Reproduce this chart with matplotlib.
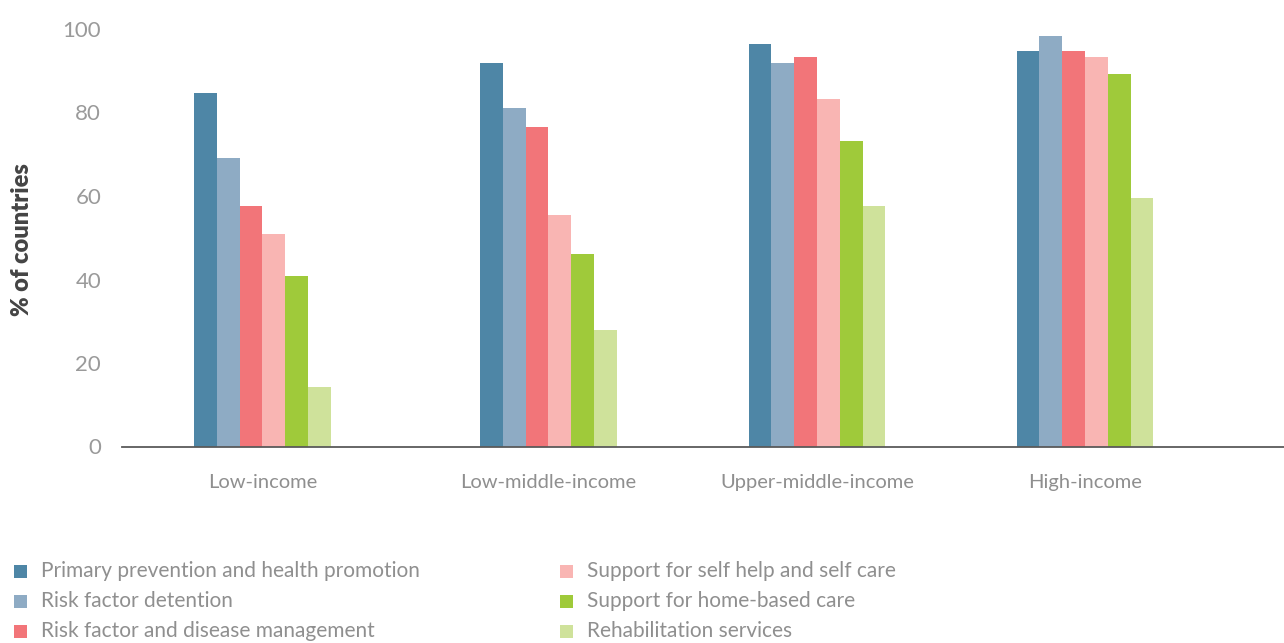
import matplotlib
matplotlib.use("Agg")
import matplotlib.pyplot as plt
from matplotlib.patches import Rectangle
import numpy as np

# Data: share of countries offering each service, by income group
income_groups = ["Low-income", "Low-middle-income", "Upper-middle-income", "High-income"]
services = [
    "Primary prevention and health promotion",
    "Risk factor detention",
    "Risk factor and disease management",
    "Support for self help and self care",
    "Support for home-based care",
    "Rehabilitation services",
]
primary_prevention = [84.6, 91.9, 96.4, 94.7]
risk_detection = [69.1, 81.1, 91.9, 98.3]
disease_management = [57.6, 76.5, 93.3, 94.7]
self_care = [50.9, 55.4, 83.2, 93.3]
home_care = [40.8, 46.0, 73.2, 89.2]
rehabilitation = [14.2, 27.9, 57.6, 59.5]
y_ticks = [0, 20, 40, 60, 80, 100]

series = [primary_prevention, risk_detection, disease_management,
          self_care, home_care, rehabilitation]
colors = ["#4E86A6", "#8EABC4", "#F27579", "#F9B5B3", "#9FCA3A", "#CFE29B"]

# Layout
W, H = 1284, 643
group_pos = np.array([0.0, 1.065, 2.065, 3.063])
bar_w = 0.085
font = "Lato"
grey_text = "#8f8f8f"

fig = plt.figure(figsize=(W / 100, H / 100), dpi=100)
ax_left, ax_right, ax_top, ax_bottom = 122, 1284, 29, 446.5
ax = fig.add_axes([ax_left / W, 1 - ax_bottom / H,
                   (ax_right - ax_left) / W, (ax_bottom - ax_top) / H])

for j, (vals, c) in enumerate(zip(series, colors)):
    ax.bar(group_pos + (j - 2.5) * bar_w, vals, width=bar_w, color=c,
           edgecolor="none", align="center", label=services[j])

ax.set_ylim(0, 100)
ax.set_xlim(-0.523, 3.804)
ax.set_yticks(y_ticks)
ax.set_yticklabels([str(t) for t in y_ticks], fontsize=16, color="#9a9a9a",
                   fontfamily=font)
ax.set_xticks(group_pos)
ax.set_xticklabels(income_groups, fontsize=14.5, color=grey_text,
                   fontfamily=font)
ax.tick_params(axis="y", length=0, pad=15)
ax.tick_params(axis="x", length=0, pad=20)

for s in ["top", "right", "left"]:
    ax.spines[s].set_visible(False)
ax.spines["bottom"].set_color("#5a5a5a")
ax.spines["bottom"].set_linewidth(1.3)

fig.text(22 / W, 1 - 240 / H, "% of countries", rotation=90,
         ha="center", va="center", fontsize=17, fontweight="heavy",
         color="#444444", fontfamily=font)

# Legend in two columns below the chart
col_x = [14, 560]
row_y = [571, 601, 631]
sq = 13
for i, (name, c) in enumerate(zip(services, colors)):
    col, row = divmod(i, 3)
    x0, yc = col_x[col], row_y[row]
    fig.patches.append(Rectangle((x0 / W, 1 - (yc + sq / 2) / H), sq / W, sq / H,
                                 transform=fig.transFigure, facecolor=c,
                                 edgecolor="none"))
    fig.text((x0 + 27) / W, 1 - yc / H, name, ha="left", va="center",
             fontsize=15, color=grey_text, fontfamily=font)

fig.savefig("out.png", dpi=100, facecolor="white")
